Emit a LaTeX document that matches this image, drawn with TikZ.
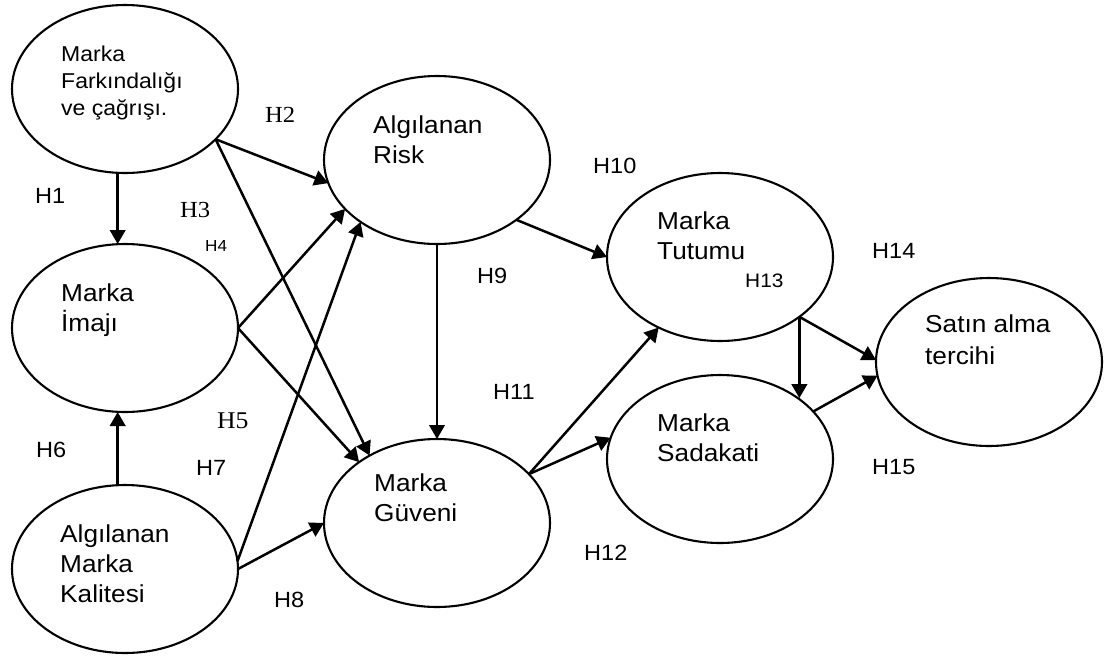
\documentclass[tikz,border=0pt]{standalone}
\usepackage{fontspec}
\setmainfont{Liberation Sans}[FakeStretch=1.07]
\newfontfamily\serifH{Liberation Serif}[FakeStretch=1.07]
\usetikzlibrary{shapes.geometric,arrows.meta}
\begin{document}
\begin{tikzpicture}[x=1pt, y=-1pt,
    construct/.style={draw, ellipse, line width=2.1pt, minimum width=226pt, minimum height=168pt, inner sep=0pt, outer sep=0pt},
    name text/.style={anchor=north west, inner sep=0pt, align=left, font=\fontsize{24.5}{30}\selectfont},
    hyp/.style={anchor=base west, inner sep=0pt, font=\fontsize{22}{26}\selectfont},
    hyp serif/.style={anchor=base west, inner sep=0pt, font=\serifH\fontsize{23}{27}\selectfont},
    path arrow/.style={draw, line width=2.5pt, -{Triangle[length=14pt, width=15.5pt]}},
    ]
\useasboundingbox (0,0) rectangle (1114,657);
\node[construct] (F) at (125,89) {};
\node[construct] (I) at (125,328) {};
\node[construct] (K) at (125,569) {};
\node[construct] (R) at (437,160) {};
\node[construct] (G) at (437,523) {};
\node[construct] (T) at (720,257) {};
\node[construct] (S) at (720,459) {};
\node[construct] (P) at (989,362) {};
\node[name text, font=\fontsize{21.5}{27}\selectfont] (Ftext) at (61,46) {Marka\\Farkındalığı\\ve çağrışı.};
\node[name text] (Itext) at (61,284) {Marka\\İmajı};
\node[name text] (Ktext) at (60,525) {Algılanan\\Marka\\Kalitesi};
\node[name text] (Rtext) at (373,116) {Algılanan\\Risk};
\node[name text] (Gtext) at (374,474) {Marka\\Güveni};
\node[name text] (Ttext) at (657,212) {Marka\\Tutumu};
\node[name text] (Stext) at (657,414) {Marka\\Sadakati};
\node[name text, font=\fontsize{24.5}{32}\selectfont] (Ptext) at (925,315) {Satın alma\\tercihi};
\node[hyp] (h1) at (35,203) {H1};
\node[hyp serif] (h2) at (265,122) {H2};
\node[hyp serif] (h3) at (180,217) {H3};
\node[hyp, font=\fontsize{16}{19}\selectfont] (h4) at (205,251) {H4};
\node[hyp serif, font=\serifH\fontsize{24}{28}\selectfont] (h5) at (217,428) {H5};
\node[hyp] (h6) at (36,457) {H6};
\node[hyp] (h7) at (196,475) {H7};
\node[hyp] (h8) at (274,607) {H8};
\node[hyp] (h9) at (477,283) {H9};
\node[hyp] (h10) at (593,173) {H10};
\node[hyp] (h11) at (493,399) {H11};
\node[hyp] (h12) at (584,560) {H12};
\node[hyp, font=\fontsize{19.5}{23}\selectfont] (h13) at (745,287) {H13};
\node[hyp] (h14) at (872,258) {H14};
\node[hyp] (h15) at (872,474) {H15};
\draw[path arrow] (F.265) -- (F.265 |- I.north);
\draw[path arrow] (K.95) -- (K.95 |- I.south);
\draw[path arrow] (F.-29.5) -- (R.192);
\draw[path arrow] (F.-29.5) -- (G.135);
\draw[path arrow] (I.0) -- (R.208);
\draw[path arrow] (I.0) -- (G.142);
\draw[path arrow] (K.4) -- (R.219);
\draw[path arrow] (K.0) -- (G.180);
\draw[path arrow] (R.south) -- (G.north);
\draw[path arrow] (R.-37) -- (T.180);
\draw[path arrow] (G.28) -- (T.229);
\draw[path arrow] (G.28) -- (S.169);
\draw[path arrow] (T.-37) -- (T.-37 |- S.38);
\draw[path arrow] (T.-37) -- (P.179);
\draw[path arrow] (S.27) -- (P.187);
\end{tikzpicture}
\end{document}
